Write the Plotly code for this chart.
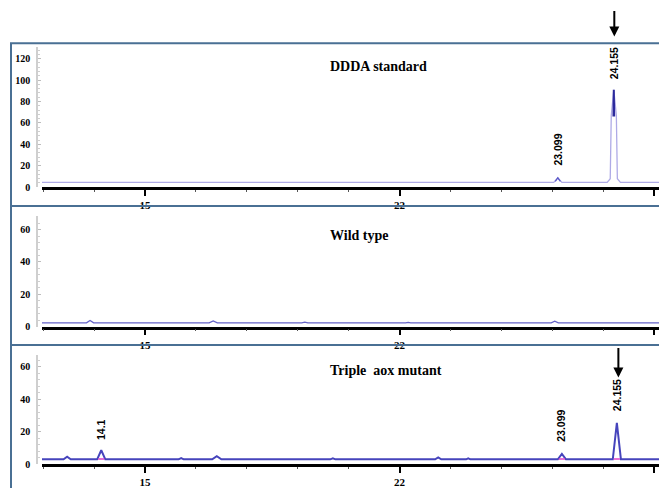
import plotly.graph_objects as go

W, H = 659, 488

# ---------------- data ----------------
x_range = [12.976, 25.098]
x_tick_vals = [15, 20, 25]
x_tick_text = ["15", "22", "25"]

panel_titles = ["DDDA standard", "Wild type", "Triple  aox mutant"]
y_ticks_top = [0, 20, 40, 60, 80, 100, 120]
y_ticks_low = [0, 20, 40, 60]

# DDDA standard chromatogram (lavender outline)
ddda_t = [12.9, 23.03, 23.11, 23.19, 24.08, 24.14, 24.16, 24.21, 24.26, 24.28, 24.34, 25.2]
ddda_s = [4.6, 4.6, 8.8, 4.6, 4.6, 8.0, 67, 91, 67, 8.0, 4.6, 4.6]
# darker apex of the main peak
ddda_core_t = [24.203, 24.21, 24.217]
ddda_core_s = [66, 91, 66]
ddda_small_t = [23.06, 23.11, 23.16]
ddda_small_s = [5.5, 8.8, 5.5]

# Wild type chromatogram
wt_t = [12.9, 13.85, 13.92, 13.99, 16.26, 16.34, 16.42, 18.08, 18.14, 18.2,
        20.12, 20.17, 20.22, 22.98, 23.05, 23.12, 25.2]
wt_s = [2.4, 2.4, 3.9, 2.4, 2.4, 3.6, 2.4, 2.4, 2.9, 2.4,
        2.4, 2.7, 2.4, 2.4, 3.4, 2.4, 2.4]

# Triple aox mutant chromatogram
mut_t = [12.9, 13.4, 13.47, 13.54, 14.06, 14.14, 14.22, 15.66, 15.71, 15.76,
         16.32, 16.41, 16.5, 18.64, 18.69, 18.74, 20.7, 20.76, 20.82,
         21.31, 21.35, 21.39, 23.11, 23.19, 23.27, 24.19, 24.27, 24.35, 25.2]
mut_s = [3.0, 3.0, 4.6, 3.0, 3.0, 8.6, 3.0, 3.0, 3.8, 3.0,
         3.0, 5.0, 3.0, 3.0, 3.6, 3.0, 3.0, 4.2, 3.0,
         3.0, 3.6, 3.0, 3.0, 6.3, 3.0, 3.0, 25.5, 3.0, 3.0]
# integration base markers (magenta)
mut_base_t = [14.08, 14.2, None, 23.13, 23.25, None, 24.21, 24.33]
mut_base_s = [3.2, 3.2, None, 3.2, 3.2, None, 3.2, 3.2]

ddda_label_t = [23.11, 24.22]
ddda_label_y = [35, 116]
ddda_label_text = ["23.099", "24.155"]

mut_label_t = [14.14, 23.17, 24.27]
mut_label_y = [21.2, 23.6, 42.4]
mut_label_text = ["14.1", "23.099", "24.155"]

arrow_t = [24.22, 24.30]

# ---------------- layout helpers ----------------
def py(px):
    return (H - px) / H

def pxx(px):
    return px / W

fig = go.Figure()

fig.add_trace(go.Scatter(x=ddda_t, y=ddda_s, mode="lines",
                         line=dict(color="#aeaae6", width=1.3), xaxis="x", yaxis="y",
                         showlegend=False, hoverinfo="skip"))
fig.add_trace(go.Scatter(x=ddda_small_t, y=ddda_small_s, mode="lines",
                         line=dict(color="#5a58c8", width=1.2), xaxis="x", yaxis="y",
                         showlegend=False, hoverinfo="skip"))
fig.add_trace(go.Scatter(x=ddda_core_t, y=ddda_core_s, mode="lines",
                         line=dict(color="#2c2a9c", width=2), xaxis="x", yaxis="y",
                         showlegend=False, hoverinfo="skip"))
fig.add_trace(go.Scatter(x=wt_t, y=wt_s, mode="lines",
                         line=dict(color="#6462c8", width=1.3), xaxis="x2", yaxis="y2",
                         showlegend=False, hoverinfo="skip"))
fig.add_trace(go.Scatter(x=mut_t, y=mut_s, mode="lines",
                         line=dict(color="#4644bc", width=2), xaxis="x3", yaxis="y3",
                         showlegend=False, hoverinfo="skip"))
fig.add_trace(go.Scatter(x=mut_base_t, y=mut_base_s, mode="lines",
                         line=dict(color="#e040c8", width=1.5), xaxis="x3", yaxis="y3",
                         showlegend=False, hoverinfo="skip", connectgaps=False))

x_dom = [pxx(42), 1.0]
y_pos = pxx(37)

def xaxis(anchor):
    return dict(domain=x_dom, range=x_range, anchor=anchor,
                tickmode="array", tickvals=x_tick_vals, ticktext=x_tick_text,
                showline=True, linecolor="black", linewidth=2.5,
                ticks="outside", ticklen=6, tickwidth=2, tickcolor="black",
                minor=dict(dtick=1, tick0=13, ticks="outside", ticklen=2,
                           tickwidth=1, tickcolor="#555"),
                tickfont=dict(family="Liberation Serif", size=11, color="black", weight="bold"),
                showgrid=False, zeroline=False, fixedrange=True)

def yaxis(dom, rng, vals):
    return dict(domain=dom, range=rng, anchor="free", position=y_pos,
                tickmode="array", tickvals=vals,
                showline=True, linecolor="#cfcfcf", linewidth=1.5,
                ticks="inside", ticklen=3, tickcolor="#bdbdbd",
                minor=dict(dtick=4, ticks="inside", ticklen=2, tickcolor="#cfcfcf"),
                tickfont=dict(family="Liberation Serif", size=10, color="black", weight="bold"),
                ticklabelstandoff=4,
                showgrid=False, zeroline=False, fixedrange=True)

fig.update_layout(
    width=W, height=H,
    margin=dict(l=0, r=0, t=0, b=0),
    paper_bgcolor="white", plot_bgcolor="rgba(0,0,0,0)",
    xaxis=xaxis("y"),
    xaxis2=xaxis("y2"),
    xaxis3=xaxis("y3"),
    yaxis=yaxis([py(190), py(48)], [0, 130.6], y_ticks_top),
    yaxis2=yaxis([py(331.5), py(219)], [0, 68.5], y_ticks_low),
    yaxis3=yaxis([py(471), py(360)], [0, 67.3], y_ticks_low),
)

border = "#4a7094"
shapes = []
for top, bot in [(44, 209), (209, 350), (350, 500)]:
    shapes.append(dict(type="rect", xref="paper", yref="paper",
                       x0=pxx(11), x1=1.02, y0=py(bot), y1=py(top),
                       line=dict(color=border, width=2), fillcolor="rgba(0,0,0,0)",
                       layer="above"))
fig.update_layout(shapes=shapes)

annotations = []
title_y = [67, 239, 376]
for txt, ty in zip(panel_titles, title_y):
    annotations.append(dict(text="<b>" + txt.replace("  ", "&nbsp; ") + "</b>",
                            xref="paper", yref="paper",
                            x=pxx(328), y=py(ty), xanchor="left", yanchor="middle",
                            showarrow=False,
                            font=dict(family="Liberation Serif", size=14, color="black")))

for t, yv, txt in zip(ddda_label_t, ddda_label_y, ddda_label_text):
    annotations.append(dict(text="<b>" + txt + "</b>", x=t, y=yv, xref="x", yref="y",
                            textangle=-90, showarrow=False, xanchor="center", yanchor="middle",
                            font=dict(family="Liberation Sans", size=10.5, color="black")))
for t, yv, txt in zip(mut_label_t, mut_label_y, mut_label_text):
    annotations.append(dict(text="<b>" + txt + "</b>", x=t, y=yv, xref="x3", yref="y3",
                            textangle=-90, showarrow=False, xanchor="center", yanchor="middle",
                            font=dict(family="Liberation Sans", size=10.5, color="black")))

# arrows
annotations.append(dict(text="", x=arrow_t[0], y=py(37), xref="x", yref="paper",
                        showarrow=True, arrowhead=2, arrowsize=1, arrowwidth=2,
                        arrowcolor="black", ax=0, ay=-27))
annotations.append(dict(text="", x=arrow_t[1], y=py(383), xref="x3", yref="paper",
                        showarrow=True, arrowhead=2, arrowsize=1, arrowwidth=2,
                        arrowcolor="black", ax=0, ay=-31))

fig.update_layout(annotations=annotations)

fig.write_html("out.html", config=dict(displayModeBar=False),
               post_script="document.body.style.margin='0';document.body.style.overflow='hidden';")
